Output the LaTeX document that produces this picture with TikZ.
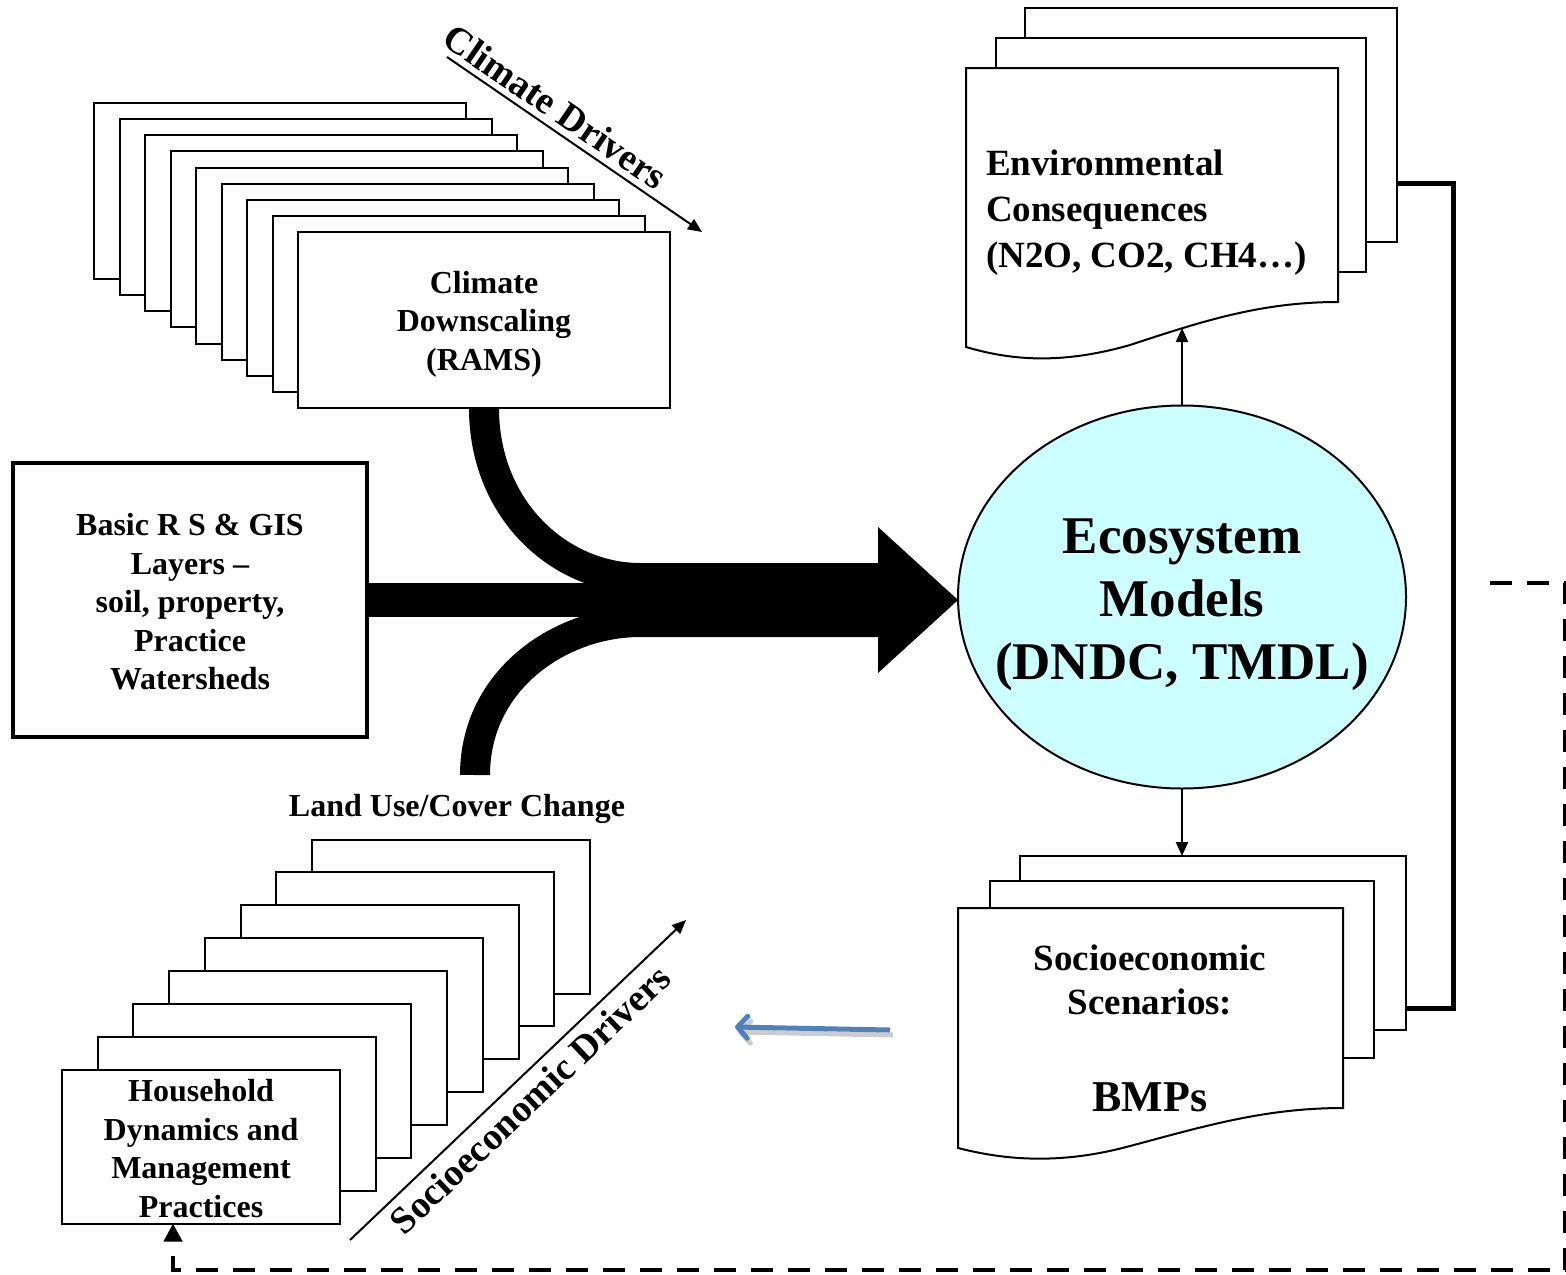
\documentclass[tikz,border=0pt]{standalone}
\usepackage{fontspec}
\setmainfont{Liberation Serif}
\usetikzlibrary{shapes.geometric,arrows.meta,calc}
\definecolor{ecocyan}{HTML}{CCFFFF}
\definecolor{bluearrow}{HTML}{4F81BD}
\tikzset{
  page/.style={draw, fill=white, line width=1pt, inner sep=0pt, outer sep=0pt},
  lbl/.style={font=\fontsize{16}{19.25}\selectfont\bfseries, align=center},
  band/.style={line width=15pt},
  flowarrow/.style={line width=1pt, -{Triangle[length=7pt,width=6pt]}},
}

\begin{document}
\begin{tikzpicture}[x=0.5pt,y=-0.5pt]
    \useasboundingbox (0,0) rectangle (1566,1274);

    % climate pages
    \foreach \i in {0,...,8}
      \node[page, minimum width=186pt, minimum height=88pt] (clim\i) at (280+25.5*\i, 191+16.125*\i) {};
    \node[lbl] (climtxt) at (clim8.center) [yshift=-2pt] {Climate\\Downscaling\\(RAMS)};

    \coordinate (cd1) at (447,57);
    \coordinate (cd2) at (702,232);
    \draw[flowarrow] (cd1) -- node[sloped, pos=0.38, above=3pt, inner sep=0pt, font=\fontsize{19}{22}\selectfont\bfseries] {Climate Drivers} (cd2);

    % household pages
    \foreach \i in {0,...,7}
      \node[page, minimum width=139pt, minimum height=77pt] (hh\i) at (451-35.71*\i, 916.5+32.86*\i) {};
    \node[lbl] (hhtxt) at (hh7.center) [yshift=-1pt] {Household\\Dynamics and\\Management\\Practices};
    \node[lbl] (lucc) at (457,809) {Land Use/Cover Change};

    \coordinate (sd1) at (350,1240);
    \coordinate (sd2) at (686,920);
    \draw[flowarrow] (sd1) -- node[sloped, pos=0.49, below=4pt, inner sep=0pt, font=\fontsize{19}{22}\selectfont\bfseries] {Socioeconomic Drivers} (sd2);

    \node[draw, line width=1.8pt, minimum width=177pt, minimum height=137pt, inner sep=0pt, outer sep=0pt] (rs) at (190,600) {};
    \node[lbl] (rstxt) at (rs.center) [yshift=-1pt] {Basic R S \& GIS\\Layers --\\soil, property,\\Practice\\Watersheds};

    \node[ellipse, draw, line width=1pt, fill=ecocyan, minimum width=224pt, minimum height=191.5pt, inner sep=0pt, outer sep=0pt] (eco) at (1182,597) {};
    \node[align=center, font=\fontsize{26.5}{31.5}\selectfont\bfseries] (ecotxt) at (eco.center) [yshift=-4pt] {Ecosystem\\Models\\(DNDC, TMDL)};

    % merging bands and big arrow
    \coordinate (lu) at (475,775);
    \draw[band] (clim8.south) .. controls (484,510) and (560,578) .. (640,578) -- (885,578);
    \draw[band] (lu) .. controls (475,680) and (560,622) .. (640,622) -- (885,622);
    \draw[line width=17pt, -{Triangle[length=40pt,width=73pt,line width=0pt]}] (rs.east) -- (rs.east -| eco.west);

    % environmental consequences
    \node[page, minimum width=186pt, minimum height=117pt] (envb) at (1211,125) {};
    \node[page, minimum width=185pt, minimum height=117pt] (envm) at (1181,155) {};
    \draw[page] (966,68) -- (1338,68) -- (1338,302) .. controls (1260,302) and (1200,322) .. (1130,345)
      .. controls (1060,365) and (1010,360) .. (966,347) -- cycle;
    \coordinate (envbot) at (1182,328);
    \node[anchor=west, align=left, font=\fontsize{18.5}{23}\selectfont\bfseries] (envtxt) at (979,213) {Environmental\\Consequences\\(N2O, CO2, CH4\ldots)};
    \draw[flowarrow] (eco.north) -- (envbot);

    % socioeconomic scenarios
    \node[page, minimum width=193pt, minimum height=87pt] (sb) at (1213,943) {};
    \node[page, minimum width=192pt, minimum height=88.5pt] (sm) at (1182,969.5) {};
    \draw[page] (958,908) -- (1343,908) -- (1343,1108) .. controls (1265,1108) and (1205,1126) .. (1130,1146)
      .. controls (1060,1165) and (1005,1160) .. (958,1148) -- cycle;
    \node[align=center, font=\fontsize{18.5}{22}\selectfont\bfseries] (sctxt) at (1150,980) {Socioeconomic\\Scenarios:};
    \node[font=\fontsize{22}{26}\selectfont\bfseries] (bmp) at (1150,1097) {BMPs};
    \draw[flowarrow] (eco.south) -- (eco.south |- sb.north);

    % feedback lines
    \coordinate (fb1) at (1397,183);
    \coordinate (fb2) at (1406,1008);
    \draw[line width=2.5pt] (fb1) -- ++(56,0) |- (fb2);

    \coordinate (dsh) at (1490,583);
    \draw[line width=2.2pt, dash pattern=on 11pt off 7.5pt, -{Triangle[length=9pt,width=9pt]}] (dsh) -| (1565,1270) -| ($(hh7.south)+(-28,0)$);

    \coordinate (bl1) at (890,1030);
    \coordinate (bl2) at (735,1027);
    \draw[black!20, line width=2.5pt, -{Straight Barb[length=5pt,width=11pt,round]}] ($(bl1)+(3,5)$) -- ($(bl2)+(3,5)$);
    \draw[bluearrow, line width=2.5pt, -{Straight Barb[length=5pt,width=11pt,round]}] (bl1) -- (bl2);
\end{tikzpicture}
\end{document}
